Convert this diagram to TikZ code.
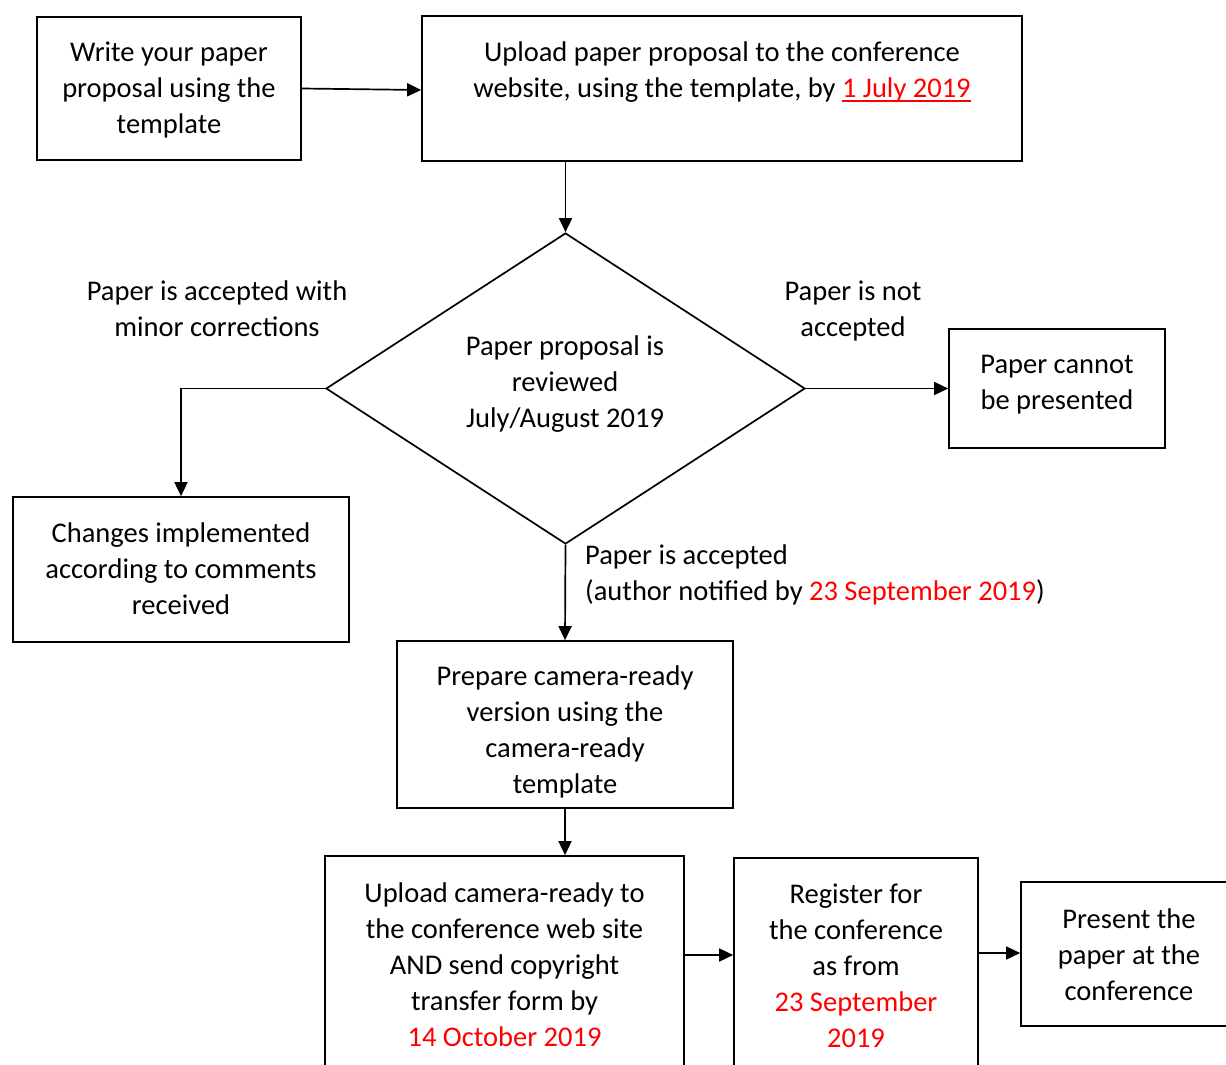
\documentclass[tikz,border=0pt]{standalone}
\usepackage{fontspec}
\setmainfont{Carlito}
\usetikzlibrary{arrows.meta,shapes.geometric}
\newcommand\redul[1]{{\color{red}\setbox0\hbox{#1}\rlap{\rule[-4.5pt]{\wd0}{1.6pt}}\box0}}
\begin{document}
\begin{tikzpicture}[x=1pt,y=-1pt,
  box/.style={draw,line width=1.7pt,inner sep=0pt},
  txt/.style={align=center,font=\fontsize{28.5}{36}\selectfont,inner sep=0pt},
  lbl/.style={font=\fontsize{28.5}{36}\selectfont,inner sep=0pt},
  arr/.style={line width=1.7pt,-{Triangle[length=14pt,width=13pt]}}]
\useasboundingbox (0,0) rectangle (1226,1065);
\clip (0,0) rectangle (1226,1065);
\fill[white] (0,0) rectangle (1226,1065);
% boxes
\node[box,minimum width=264pt,minimum height=143pt] (A) at (169,88.5) {};
\node[txt] (At) at (169,90) {Write your paper\\proposal using the\\template};
\node[box,minimum width=600pt,minimum height=145pt] (B) at (722,88.5) {};
\node[txt] (Bt) at (722,72) {Upload paper proposal to the conference\\website, using the template, by \redul{1 July 2019}};
\node[draw,line width=1.7pt,diamond,inner sep=0pt,minimum width=479pt,minimum height=311pt] (D) at (565.5,388.5) {};
\node[txt] (Dt) at (565,384.5) {Paper proposal is\\reviewed\\July/August 2019};
\node[box,minimum width=216pt,minimum height=119pt] (C) at (1057,388.5) {};
\node[txt] (Ct) at (1057,385) {Paper cannot\\be presented};
\node[box,minimum width=336pt,minimum height=145pt] (E) at (181,569.5) {};
\node[txt] (Et) at (181,569) {Changes implemented\\according to comments\\received};
\node[box,minimum width=336pt,minimum height=167pt] (P) at (565,724.5) {};
\node[txt] (Pt) at (565,732) {Prepare camera-ready\\version using the\\camera-ready\\template};
\node[box,minimum width=359pt,minimum height=260pt] (U) at (504.5,986) {};
\node[txt] (Ut) at (504.5,965) {Upload camera-ready to\\the conference web site\\AND send copyright\\transfer form by\\{\color{red}14 October 2019}};
\node[box,minimum width=244pt,minimum height=260pt] (R) at (856,988) {};
\node[txt] (Rt) at (856,966) {Register for\\the conference\\as from\\{\color{red}23 September}\\{\color{red}2019}};
\node[box,minimum width=216pt,minimum height=144pt] (S) at (1129,954) {};
\node[txt] (St) at (1129,955) {Present the\\paper at the\\conference};
% labels
\node[lbl,align=center] (L1) at (217,309) {Paper is accepted with\\minor corrections};
\node[lbl,align=center] (L2) at (853,311) {Paper is not\\accepted};
\node[lbl,align=left,anchor=west] (L3) at (585,575) {Paper is accepted\\(author notified by {\color{red}23 September 2019})};
% connectors
\draw[arr] (A.east) -- (B.west |- 0,90);
\draw[arr] (D.north |- B.south) -- (D.north);
\draw[arr] (D.west) -| (E.north);
\draw[arr] (D.east) -- (C.west);
\draw[arr] (D.south) -- (P.north);
\draw[arr] (P.south) -- (U.north -| P.south);
\draw[arr] (U.east |- 0,955) -- (R.west |- 0,955);
\draw[arr] (R.east |- 0,953) -- (S.west |- 0,953);
\end{tikzpicture}
\end{document}
